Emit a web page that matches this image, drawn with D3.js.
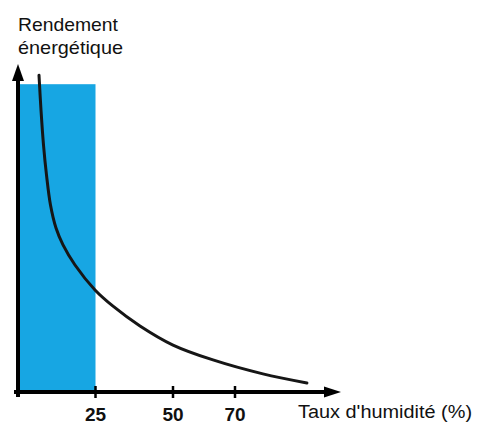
<!DOCTYPE html>
<html><head><meta charset="utf-8">
<script src="https://cdn.jsdelivr.net/npm/d3@7"></script>
<style>html,body{margin:0;padding:0;background:#fff;}svg{display:block;}</style>
</head><body>
<svg id="c" width="503" height="425"></svg>
<script>
// Data
const barRange = [0, 25];          // humidity range highlighted
const barValue = 95;               // efficiency level of the bar
const curveX = [6.77, 7.42, 8.23, 9.19, 10.48, 12.26, 14.52, 18.39, 24.84, 30.65, 39.35, 50.0, 62.9, 79.0, 93.2];
const curveY = [97.8, 87.0, 76.2, 67.0, 57.7, 50.6, 45.4, 39.2, 31.5, 26.5, 20.4, 14.5, 9.9, 5.6, 2.8];
const tickValues = [25, 50, 70];
const yTitle = ["Rendement", "énergétique"];
const xTitle = "Taux d'humidité (%)";

const svg = d3.select("#c");
const x = d3.scaleLinear().domain([0, 100]).range([18, 328]);
const y = d3.scaleLinear().domain([0, 100]).range([392, 68]);

// bar
svg.append("rect")
  .attr("x", x(barRange[0]) + 1)
  .attr("y", y(barValue))
  .attr("width", x(barRange[1]) - x(barRange[0]) - 1)
  .attr("height", y(0) - y(barValue))
  .attr("fill", "#17a6e3");

// curve
const pts = curveX.map((v, i) => [v, curveY[i]]);
svg.append("path")
  .datum(pts)
  .attr("d", d3.line().x(d => x(d[0])).y(d => y(d[1])).curve(d3.curveCatmullRom.alpha(0.5)))
  .attr("fill", "none")
  .attr("stroke", "#161616")
  .attr("stroke-width", 3)
  .attr("stroke-linecap", "round");

// axes
const ax = "#000";
svg.append("line").attr("x1", x(0)).attr("x2", x(0)).attr("y1", 397).attr("y2", 78)
  .attr("stroke", ax).attr("stroke-width", 4);
svg.append("path").attr("d", `M${x(0)},64 L${x(0)+6},81 L${x(0)-6},81 Z`).attr("fill", ax);
svg.append("line").attr("x1", 14).attr("x2", 328).attr("y1", y(0)).attr("y2", y(0))
  .attr("stroke", ax).attr("stroke-width", 4);
svg.append("path").attr("d", `M341,${y(0)} L324,${y(0)-5.5} L324,${y(0)+5.5} Z`).attr("fill", ax);

// ticks
const g = svg.append("g");
g.selectAll("line.t").data(tickValues).join("line")
  .attr("x1", d => x(d)).attr("x2", d => x(d))
  .attr("y1", y(0) - 6).attr("y2", y(0) + 6)
  .attr("stroke", ax).attr("stroke-width", 2.5);
g.selectAll("text.t").data(tickValues).join("text")
  .attr("x", d => x(d)).attr("y", 421)
  .attr("text-anchor", "middle")
  .attr("font-family", "Liberation Sans, Arial, sans-serif")
  .attr("font-weight", "bold").attr("font-size", 19)
  .attr("fill", "#111")
  .text(d => d);

// titles
svg.append("text").attr("x", 298).attr("y", 418)
  .attr("font-family", "Liberation Sans, Arial, sans-serif")
  .attr("font-size", 18).attr("fill", "#111")
  .attr("textLength", 174).attr("lengthAdjust", "spacingAndGlyphs")
  .text(xTitle);
svg.selectAll("text.yt").data(yTitle).join("text")
  .attr("x", 18).attr("y", (d, i) => 31 + i * 23)
  .attr("font-family", "Liberation Sans, Arial, sans-serif")
  .attr("font-size", 19).attr("fill", "#111")
  .attr("textLength", (d, i) => i === 0 ? 100 : 105).attr("lengthAdjust", "spacingAndGlyphs")
  .text(d => d);
</script>
</body></html>
